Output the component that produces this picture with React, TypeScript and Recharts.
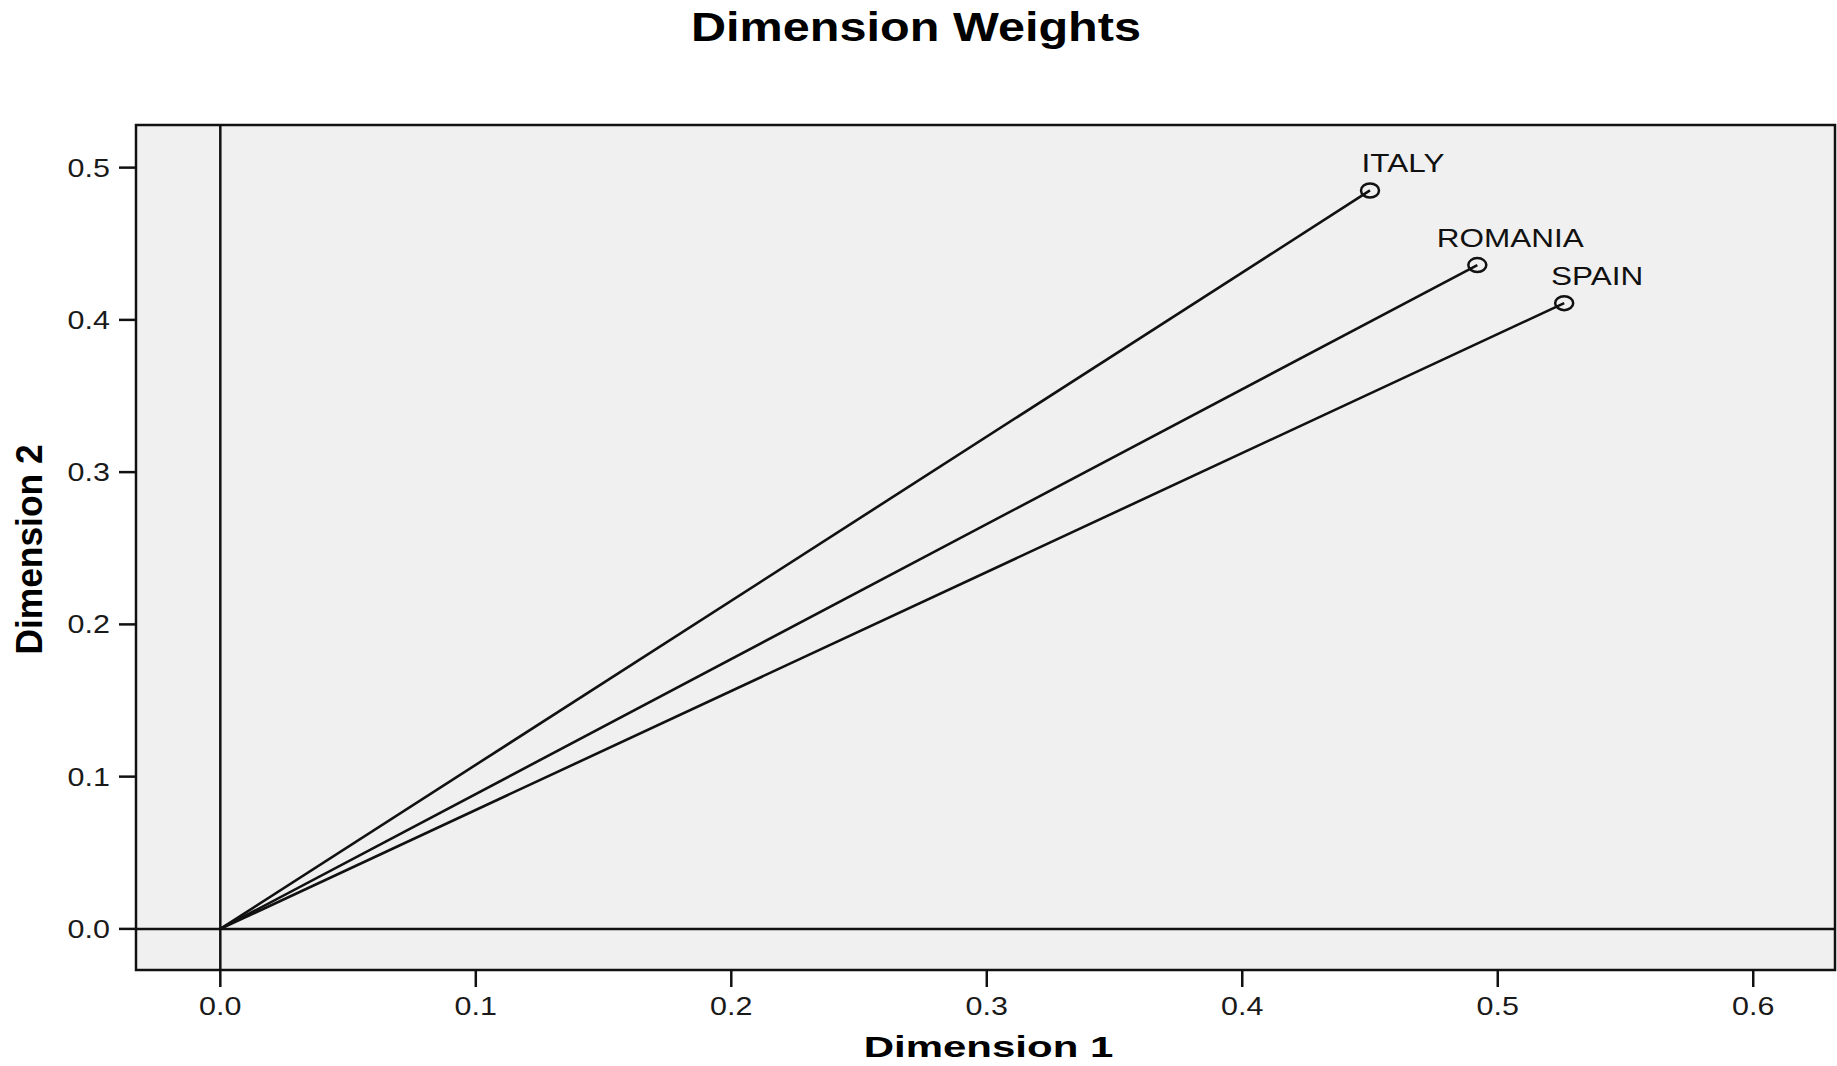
import { ScatterChart, Scatter, XAxis, YAxis, ReferenceLine, ReferenceArea, Label } from 'recharts';

const countries = ['ITALY', 'ROMANIA', 'SPAIN'];
const dimension1 = [0.450, 0.492, 0.526];
const dimension2 = [0.485, 0.436, 0.411];

const xTicks = [0, 0.1, 0.2, 0.3, 0.4, 0.5, 0.6];
const yTicks = [0, 0.1, 0.2, 0.3, 0.4, 0.5];
const xDomain = [-0.033, 0.632];
const yDomain = [-0.027, 0.528];

const FONT = 'Arial, "Liberation Sans", Helvetica, sans-serif';

// every vector runs from the origin out to the weight point
const vectors = countries.map((name, i) => ({
  name,
  data: [{ x: 0, y: 0 }, { x: dimension1[i], y: dimension2[i], name }],
}));

const XTick = ({ x, y, payload }: any) => (
  <text transform={`translate(${x},${y}) scale(1.22,1)`} textAnchor="middle" dy="0.71em"
    fontSize={25} fontFamily={FONT} fill="#1a1a1a">
    {Number(payload.value).toFixed(1)}
  </text>
);

const YTick = ({ x, y, payload }: any) => (
  <text transform={`translate(${x},${y}) scale(1.22,1)`} textAnchor="end" dy="0.355em"
    fontSize={25} fontFamily={FONT} fill="#1a1a1a">
    {Number(payload.value).toFixed(1)}
  </text>
);

const xTitle = ({ viewBox }: any) => (
  <text transform={`translate(${viewBox.x + viewBox.width / 2 + 3},${viewBox.y + 87}) scale(1.4,1)`}
    textAnchor="middle" fontSize={30} fontWeight="bold" fontFamily={FONT} fill="#000">
    Dimension 1
  </text>
);

const yTitle = ({ viewBox }: any) => (
  <text transform={`translate(42,${viewBox.y + viewBox.height / 2 + 2}) scale(1.22,1) rotate(-90) scale(1.14,1)`}
    textAnchor="middle" fontSize={31} fontWeight="bold" fontFamily={FONT} fill="#000">
    Dimension 2
  </text>
);

const WeightPoint = (props: any) => {
  const { cx, cy, payload } = props;
  if (!payload || !payload.name) return <g />;
  return (
    <g>
      <ellipse cx={cx} cy={cy} rx={9} ry={7} fill="none" stroke="#111" strokeWidth={2.5} />
      <text transform={`translate(${cx + 33},${cy - 18}) scale(1.26,1)`} textAnchor="middle"
        fontSize={25} fontFamily={FONT} fill="#111">
        {payload.name}
      </text>
    </g>
  );
};

export default function App() {
  return (
    <div style={{ position: 'absolute', left: 0, top: 0, width: 1837, height: 1066, background: '#fff' }}>
      <ScatterChart width={1837} height={1066} margin={{ top: 125, right: 2, bottom: 0, left: 0 }}>
        <XAxis type="number" dataKey="x" domain={xDomain} ticks={xTicks} height={96}
          axisLine={false} tickSize={17} tickMargin={10} tickLine={{ stroke: '#111', strokeWidth: 2.5 }}
          tick={<XTick />} interval={0}>
          <Label content={xTitle} />
        </XAxis>
        <YAxis type="number" dataKey="y" domain={yDomain} ticks={yTicks} width={136}
          axisLine={false} tickSize={17} tickMargin={9} tickLine={{ stroke: '#111', strokeWidth: 2.5 }}
          tick={<YTick />} interval={0}>
          <Label content={yTitle} />
        </YAxis>

        {/* plot frame */}
        <ReferenceArea x1={xDomain[0]} x2={xDomain[1]} y1={yDomain[0]} y2={yDomain[1]}
          fill="#f0f0f0" fillOpacity={1} stroke="#111" strokeWidth={2.5} ifOverflow="visible" />
        <ReferenceLine x={0} stroke="#111" strokeWidth={2.5} />
        <ReferenceLine y={0} stroke="#111" strokeWidth={2.5} />

        {vectors.map((v) => (
          <Scatter key={v.name} name={v.name} data={v.data} line={{ stroke: '#111', strokeWidth: 2.6 }}
            shape={<WeightPoint />} isAnimationActive={false} />
        ))}
      </ScatterChart>

      <svg width={1837} height={70} style={{ position: 'absolute', left: 0, top: 0 }}>
        <text transform="translate(916,41) scale(1.215,1)" textAnchor="middle" fontSize={40}
          fontWeight="bold" fontFamily={FONT} fill="#000">
          Dimension Weights
        </text>
      </svg>
    </div>
  );
}
